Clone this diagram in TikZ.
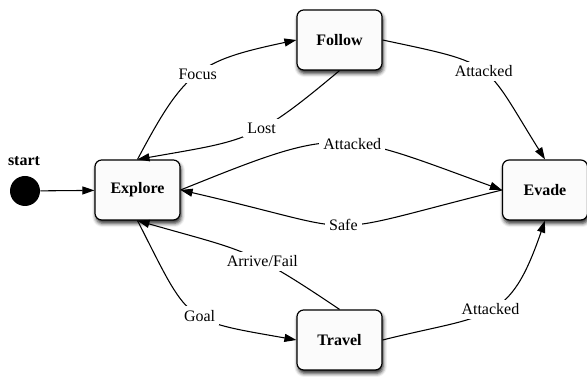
\documentclass[tikz,border=0pt]{standalone}
\usepackage{fontspec}
\setmainfont{Liberation Serif}
\usetikzlibrary{arrows.meta,shadows.blur}

\begin{document}
\begin{tikzpicture}[x=0.75pt,y=0.75pt,
  font=\fontsize{12}{14}\selectfont,
  state/.style={draw, line width=0.9pt, rounded corners=5pt, fill=gray!3,
    minimum width=63.75pt, minimum height=45pt, font=\fontsize{12}{14}\selectfont\bfseries,
    blur shadow={shadow xshift=0.8pt, shadow yshift=-2.5pt, shadow blur radius=2.8pt, shadow opacity=85}},
  trans/.style={line width=0.8pt, -{Triangle[length=9pt,width=6pt]}},
  lbl/.style={fill=white, inner sep=3pt}]
\useasboundingbox (0,0) rectangle (587,377);
% states
\node[circle, fill, minimum size=22.5pt, inner sep=0pt] (start) at (25,186){};
\node[font=\fontsize{12}{14}\selectfont\bfseries] (startlbl) at (24,216){start};
\node[state] (Explore) at (137.5,187){Explore};
\node[state] (Follow) at (339.5,337){Follow};
\node[state] (Travel) at (339.5,37){Travel};
\node[state] (Evade) at (545,187){Evade};
% transitions
\draw[trans](start) -- (Explore);
\draw[trans](Explore.north) to[out=62,in=192,looseness=1.3] node[lbl]{Focus} (Follow.west);
\draw[trans](Follow.south) to[out=220,in=10,looseness=1.3] node[lbl,pos=0.41]{Lost} (Explore.north);
\draw[trans](Follow.east) to[out=-12,in=122,looseness=1.5] node[lbl]{Attacked} (Evade.north);
\draw[trans](Explore.east) to[out=22,in=160,looseness=1.4] node[lbl,pos=0.55]{Attacked} (Evade.west);
\draw[trans](Evade.west) to[out=194,in=-13,looseness=1.6] node[lbl,pos=0.49]{Safe} (Explore.east);
\draw[trans](Explore.south) to[out=-63,in=170,looseness=1.5] node[lbl,pos=0.55]{Goal} (Travel.west);
\draw[trans](Travel.north) to[out=146,in=-16,looseness=1.3] node[lbl,pos=0.38]{Arrive/Fail} (Explore.south);
\draw[trans](Travel.east) to[out=14,in=-109,looseness=1.4] node[lbl]{Attacked} (Evade.south);
\end{tikzpicture}
\end{document}
